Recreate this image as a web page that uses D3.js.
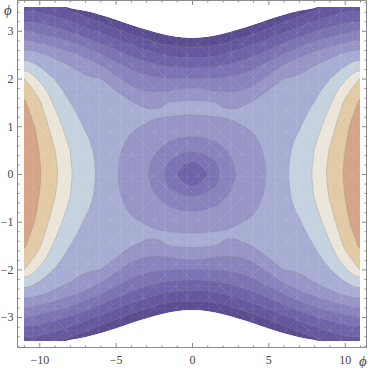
<!DOCTYPE html>
<html>
<head>
<meta charset="utf-8">
<script src="https://cdn.jsdelivr.net/npm/d3@7"></script>
<style>
  body { margin: 0; background: #fff; }
  svg { display: block; }
</style>
</head>
<body>
<svg id="chart" width="368" height="368"></svg>
<script>
// grid, one quadrant (x >= 0, phi >= 0), mirrored below
const xsQ = [0, 0.5, 1, 1.5, 2, 2.5, 3, 4, 5, 6, 7, 8, 9, 10, 11];
const phisQ = [0, 0.25, 0.5, 0.75, 1, 1.25, 1.5, 1.75, 2, 2.25, 2.5, 2.75, 3, 3.25, 3.5];
// levelQ[j][i] -> level at (xsQ[i], phisQ[j]); integer levels are the contour lines
const levelQ = [
  [1.8, 2.4, 2.95, 3.55, 4.05, 4.55, 5.05, 5.5, 6.07, 6.8, 7.45, 8.12, 9.25, 10.1, 10.9],
  [2.97, 3.1, 3.6, 3.94, 4.47, 4.83, 5.28, 5.61, 6.11, 6.77, 7.38, 8.06, 9.15, 10.06, 10.88],
  [4.13, 4.17, 4.31, 4.55, 4.89, 5.14, 5.5, 5.72, 6.15, 6.73, 7.3, 8.01, 9.04, 9.98, 10.85],
  [4.91, 4.94, 5.04, 5.15, 5.31, 5.49, 5.73, 5.92, 6.26, 6.7, 7.11, 7.75, 8.81, 9.86, 10.75],
  [5.48, 5.49, 5.55, 5.62, 5.72, 5.83, 5.95, 6.08, 6.36, 6.62, 6.92, 7.5, 8.5, 9.75, 10.65],
  [6.02, 6.03, 6.06, 6.08, 6.1, 6.11, 6.15, 6.22, 6.41, 6.53, 6.74, 7.25, 8.19, 9.45, 10.4],
  [6.16, 6.14, 6.09, 6.02, 5.92, 5.85, 5.82, 6.05, 6.2, 6.45, 6.55, 7.01, 7.83, 9.15, 10.16],
  [5.23, 5.19, 5.09, 4.96, 4.9, 4.91, 4.94, 5.26, 6.01, 6.23, 6.33, 6.69, 7.4, 8.61, 9.74],
  [4.01, 4.01, 4.02, 4.03, 4.07, 4.15, 4.23, 4.53, 5.24, 6.02, 6.11, 6.38, 6.96, 7.83, 9.03],
  [2.86, 2.86, 2.91, 2.96, 3.08, 3.26, 3.39, 3.81, 4.39, 5.17, 5.62, 6.06, 6.43, 7.02, 7.95],
  [1.73, 1.73, 1.77, 1.86, 2.02, 2.25, 2.42, 2.88, 3.42, 4.09, 4.8, 5.29, 5.78, 6.22, 6.7],
  [0.6, 0.6, 0.64, 0.73, 0.87, 1.14, 1.32, 1.82, 2.35, 2.95, 3.55, 4.15, 4.63, 5.02, 5.4],
  [-0.53, -0.53, -0.49, -0.4, -0.26, 0.01, 0.19, 0.68, 1.23, 1.82, 2.36, 2.91, 3.38, 3.7, 4.12],
  [-1.66, -1.66, -1.6, -1.52, -1.39, -1.1, -0.94, -0.44, 0.1, 0.68, 1.23, 1.77, 2.23, 2.59, 2.9],
  [-2.78, -2.78, -2.74, -2.65, -2.51, -2.24, -2.06, -1.57, -1.03, -0.44, 0.1, 0.64, 1.2, 1.56, 1.77]
];
const thresholds = [1, 2, 3, 4, 5, 6, 7, 8, 9, 10];
const bandColors = ['#5b4b90', '#64579d', '#6e63a8', '#7b73b3', '#8883bd', '#9695c6',
  '#a7acd2', '#c4d2df', '#ebe5d9', '#e2cba4', '#d5a487'];

// upper edge of the plotted region (white outside), x >= 0
const boundX = [0, 1, 2, 3, 4, 5, 6, 7, 8, 8.25, 9, 10, 11];
const boundPhi = [2.85, 2.875, 2.94, 3.03, 3.13, 3.24, 3.34, 3.42, 3.48, 3.5, 3.5, 3.5, 3.5];

const yMajor = [-3, -2, -1, 0, 1, 2, 3];
const xMajor = [-10, -5, 0, 5, 10];

const svg = d3.select('#chart');
const x = d3.scaleLinear().domain([-11, 11]).range([24, 360]);
const y = d3.scaleLinear().domain([-3.5, 3.5]).range([341, 7]);

// full grid from the quadrant
const gx = [...xsQ.slice(1).reverse().map((d) => -d), ...xsQ];
const gy = [...phisQ.slice(1).reverse().map((d) => -d), ...phisQ];
const nx = gx.length;
const ny = gy.length;
const values = [];
for (let r = 0; r < ny; r++) {
  for (let c = 0; c < nx; c++) {
    values.push(levelQ[Math.abs(r - (phisQ.length - 1))][Math.abs(c - (xsQ.length - 1))]);
  }
}

// contour coords are in grid units, samples sit at i + 0.5
function gridToData(c, n, g, pad) {
  if (c <= 0) return g[0] - pad;
  if (c >= n) return g[n - 1] + pad;
  const t = Math.max(0, Math.min(n - 1, c - 0.5));
  const i = Math.min(n - 2, Math.floor(t));
  return g[i] + (g[i + 1] - g[i]) * (t - i);
}

const ringLine = d3.line().curve(d3.curveBasisClosed);

function ringPath(ring) {
  const out = [];
  ring.forEach(([cx, cy]) => {
    const p = [x(gridToData(cx, nx, gx, 0.6)), y(gridToData(cy, ny, gy, 0.3))];
    const q = out[out.length - 1];
    if (!q || Math.hypot(p[0] - q[0], p[1] - q[1]) > 0.05) out.push(p);
  });
  const f = out[0];
  const l = out[out.length - 1];
  if (out.length > 1 && Math.hypot(f[0] - l[0], f[1] - l[1]) < 0.05) out.pop();
  return ringLine(out);
}

function geoToPath(geo) {
  return geo.coordinates.map((poly) => poly.map(ringPath).join('')).join('');
}

const contours = d3.contours().size([nx, ny]).thresholds(thresholds)(values);

// region outline
const bFull = [
  ...boundX.slice(1).reverse().map((d, i) => [-d, boundPhi[boundX.length - 1 - i]]),
  ...boundX.map((d, i) => [d, boundPhi[i]]),
];
const regionArea = d3.area()
  .x((d) => x(d[0]))
  .y0((d) => y(-d[1]))
  .y1((d) => y(d[1]))
  .curve(d3.curveMonotoneX);

const defs = svg.append('defs');
defs.append('clipPath').attr('id', 'region')
  .append('path').attr('d', regionArea(bFull));

// faint mesh streaks like the rasterised original
const pat = defs.append('pattern').attr('id', 'mesh')
  .attr('patternUnits', 'userSpaceOnUse')
  .attr('width', 22).attr('height', 22);
pat.append('path')
  .attr('d', 'M0,0V22M11,0V22M0,0H22M0,0L22,22M22,0L0,22')
  .attr('stroke', '#fff').attr('stroke-width', 0.6).attr('fill', 'none');

const plot = svg.append('g').attr('clip-path', 'url(#region)');

plot.append('path')
  .attr('d', regionArea(bFull))
  .attr('fill', bandColors[0]);

plot.selectAll('path.band')
  .data(contours)
  .enter()
  .append('path')
  .attr('class', 'band')
  .attr('d', geoToPath)
  .attr('fill', (d, i) => bandColors[i + 1])
  .attr('fill-rule', 'evenodd')
  .attr('stroke', '#8e8a9a')
  .attr('stroke-opacity', 0.55)
  .attr('stroke-width', 0.6);

plot.append('rect')
  .attr('x', 20).attr('y', 0).attr('width', 345).attr('height', 348)
  .attr('fill', 'url(#mesh)')
  .attr('opacity', 0.15);

// frame
const fL = 17, fR = 367, fT = 0, fB = 348;
const frameColor = '#8a8a8a';
svg.append('path')
  .attr('d', `M${fL + 0.5},${fT}V${fB - 0.5}H${fR}M${fL},${fT + 0.5}H${fR - 0.5}V${fB}`)
  .attr('fill', 'none')
  .attr('stroke', frameColor)
  .attr('stroke-width', 1);

const yMinor = d3.range(-36, 37, 2).map((d) => d / 10).filter((d) => Math.abs(d - Math.round(d)) > 1e-6);
const xMinor = d3.range(-11, 12).filter((d) => d % 5 !== 0);

function styleAxis(g) {
  g.select('.domain').remove();
  g.selectAll('.tick line').attr('stroke', frameColor);
  g.selectAll('.tick text')
    .attr('fill', '#444')
    .style('font-family', '"Liberation Serif", "DejaVu Serif", serif')
    .style('font-size', '12px');
}

svg.append('g').attr('transform', `translate(${fL},0)`)
  .call(d3.axisLeft(y).tickValues(yMinor).tickSize(-2.5).tickFormat(''))
  .call(styleAxis);
svg.append('g').attr('transform', `translate(${fL},0)`)
  .call(d3.axisLeft(y).tickValues(yMajor).tickSize(-5).tickPadding(3.5).tickFormat(d3.format('d')))
  .call(styleAxis);
svg.append('g').attr('transform', `translate(${fR},0)`)
  .call(d3.axisRight(y).tickValues(yMinor).tickSize(-2.5).tickFormat(''))
  .call(styleAxis);
svg.append('g').attr('transform', `translate(${fR},0)`)
  .call(d3.axisRight(y).tickValues(yMajor).tickSize(-5).tickFormat(''))
  .call(styleAxis);

svg.append('g').attr('transform', `translate(0,${fB})`)
  .call(d3.axisBottom(x).tickValues(xMinor).tickSize(-2.5).tickFormat(''))
  .call(styleAxis);
svg.append('g').attr('transform', `translate(0,${fB})`)
  .call(d3.axisBottom(x).tickValues(xMajor).tickSize(-5).tickPadding(7).tickFormat(d3.format('d')))
  .call(styleAxis);
svg.append('g').attr('transform', `translate(0,${fT})`)
  .call(d3.axisTop(x).tickValues(xMinor).tickSize(-2.5).tickFormat(''))
  .call(styleAxis);
svg.append('g').attr('transform', `translate(0,${fT})`)
  .call(d3.axisTop(x).tickValues(xMajor).tickSize(-5).tickFormat(''))
  .call(styleAxis);

// axis labels
svg.append('text')
  .attr('x', 8).attr('y', 15)
  .attr('text-anchor', 'middle')
  .attr('fill', '#444')
  .style('font', 'italic 15px "Liberation Serif", "DejaVu Serif", serif')
  .text('ϕ');
svg.append('text')
  .attr('x', 363).attr('y', 366)
  .attr('text-anchor', 'middle')
  .attr('fill', '#444')
  .style('font', 'italic 15px "Liberation Serif", "DejaVu Serif", serif')
  .text('ϕ');
</script>
</body>
</html>
